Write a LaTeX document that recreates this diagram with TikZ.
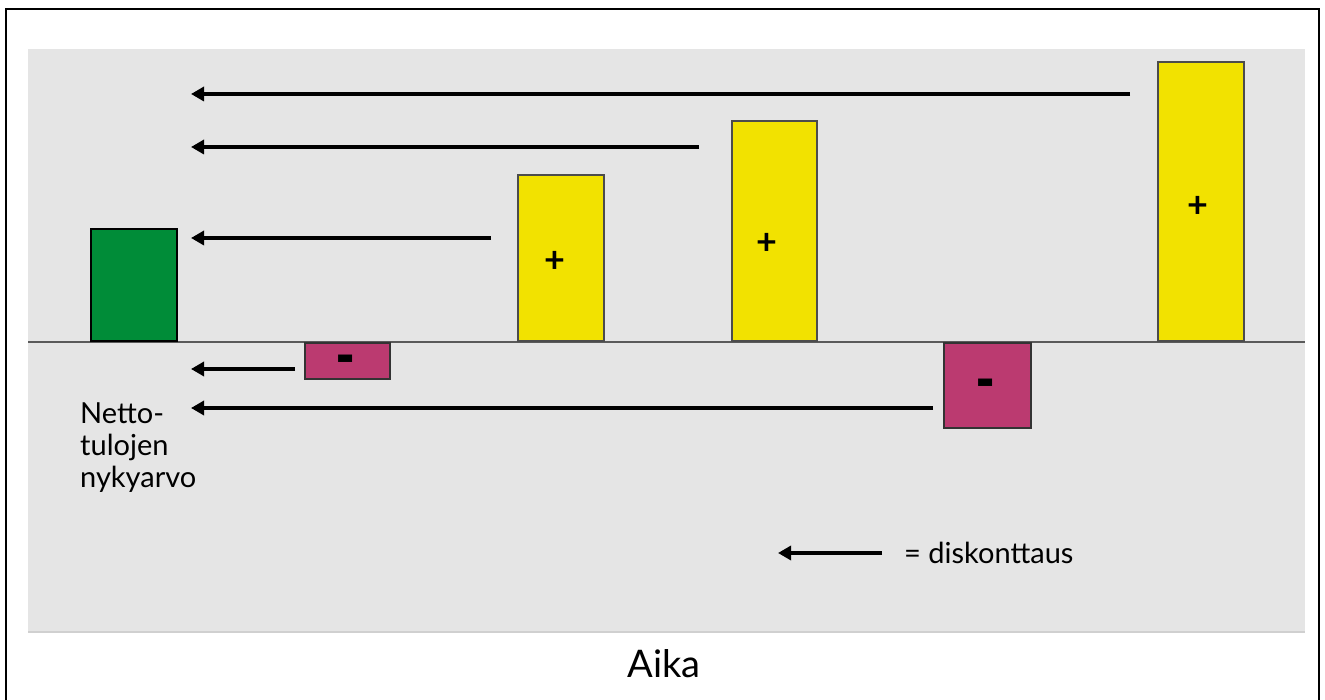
\documentclass[tikz,border=0pt]{standalone}
\usepackage{fontspec}
\usepackage{graphicx}
\setmainfont{Lato}
\usetikzlibrary{arrows.meta}
\definecolor{panelgray}{RGB}{229,229,229}
\definecolor{barGreen}{RGB}{0,140,56}
\definecolor{barYellow}{RGB}{242,226,0}
\definecolor{barMagenta}{RGB}{187,58,112}
\definecolor{axisgray}{RGB}{90,90,90}
\tikzset{
  bar/.style={draw=#1, line width=2pt, inner sep=0pt, anchor=south west},
  negbar/.style={draw=#1, line width=2pt, inner sep=0pt, anchor=north west},
  disc/.style={line width=4pt, -{Triangle[length=13pt,width=14pt]}},
  plussign/.style={font=\fontsize{36}{38}\selectfont\bfseries, inner sep=0pt},
  minussign/.style={font=\fontsize{30}{32}\selectfont\bfseries, inner sep=0pt, anchor=base},
  lbl/.style={font=\fontsize{29}{32}\selectfont, inner sep=0pt}
}
\newcommand{\thickminus}{\scalebox{1.8}[2.4]{-}}
\begin{document}
\begin{tikzpicture}[x=1pt,y=-1pt]
\useasboundingbox (0,0) rectangle (1325,700);
\fill[white] (0,0) rectangle (1325,700);
% outer frame (open at bottom)
\draw[line width=2.5pt] (6,702) -- (6,9) -- (1319,9) -- (1319,702);
% panel
\fill[panelgray] (28,49) rectangle (1305,633);
\draw[line width=1.5pt, color={rgb,255:red,208;green,208;blue,208}] (28,632) -- (1305,632);
% axis
\draw[axisgray, line width=1.5pt] (28,342) -- (1305,342);
% bars
\node[bar=black, fill=barGreen, minimum width=86pt, minimum height=112pt] (g) at (90,342) {};
\node[negbar=black!80, fill=barMagenta, minimum width=85pt, minimum height=36pt] (m1) at (304,342) {};
\node[bar=black!70, fill=barYellow, minimum width=86pt, minimum height=166pt] (y1) at (517,342) {};
\node[bar=black!70, fill=barYellow, minimum width=85pt, minimum height=220pt] (y2) at (731,342) {};
\node[negbar=black!80, fill=barMagenta, minimum width=87pt, minimum height=85pt] (m2) at (943,342) {};
\node[bar=black!70, fill=barYellow, minimum width=86pt, minimum height=279pt] (y3) at (1157,342) {};
% signs
\node[plussign] (p1) at (555,262) {+};
\node[plussign] (p2) at (767,244) {+};
\node[plussign] (p3) at (1198,207) {+};
\node[minussign] (n1) at (346,381) {\thickminus};
\node[minussign] (n2) at (986,404) {\thickminus};
% arrow endpoints
\coordinate (s3) at (1130,94);  \coordinate (t3) at (191,94);
\coordinate (s2) at (699,147);  \coordinate (t2) at (191,147);
\coordinate (s1) at (491,238);  \coordinate (t1) at (191,238);
\coordinate (sm1) at (295,369); \coordinate (tm1) at (191,369);
\coordinate (sm2) at (933,408); \coordinate (tm2) at (191,408);
\draw[disc] (s3) -- (t3);
\draw[disc] (s2) -- (t2);
\draw[disc] (s1) -- (t1);
\draw[disc] (sm1) -- (tm1);
\draw[disc] (sm2) -- (tm2);
% label
\node[lbl, anchor=north west, align=left] (npv) at (80,403) {Netto-\\tulojen\\nykyarvo};
% legend
\coordinate (ls) at (882,553); \coordinate (lt) at (778,553);
\draw[disc] (ls) -- (lt);
\node[lbl, anchor=west] (leg) at (904,553) {= diskonttaus};
% axis title
\node[font=\fontsize{38}{40}\selectfont, inner sep=0pt] (aika) at (664,664) {Aika};
\end{tikzpicture}
\end{document}
